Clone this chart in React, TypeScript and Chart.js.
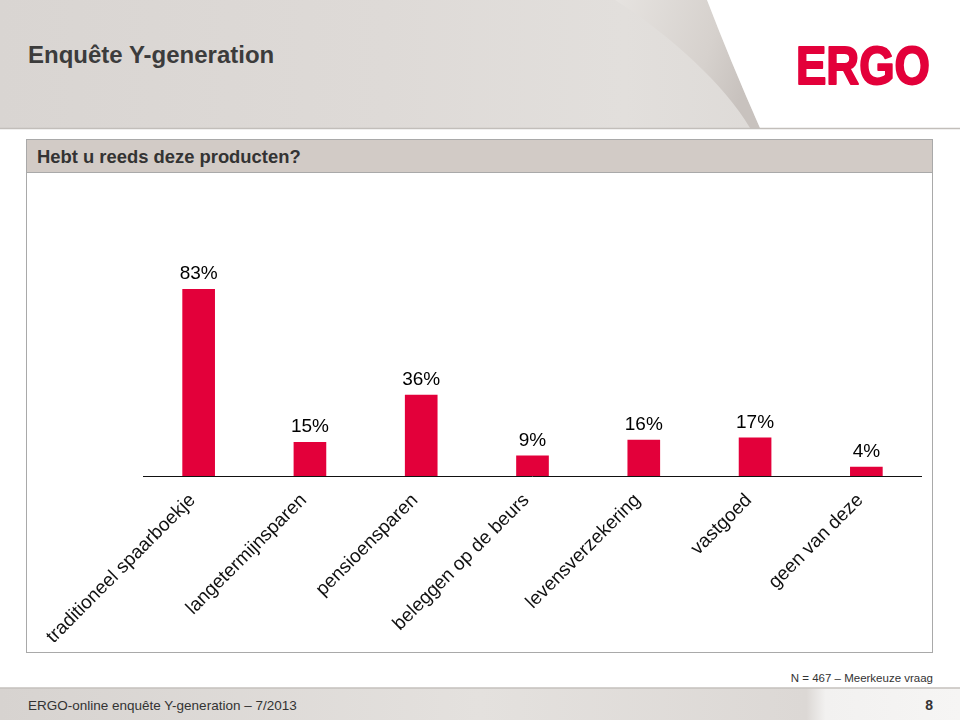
import React, { useEffect, useRef } from "react";
import { Chart, registerables } from "chart.js";

Chart.register(...registerables);

const categories = [
  "traditioneel spaarboekje",
  "langetermijnsparen",
  "pensioensparen",
  "beleggen op de beurs",
  "levensverzekering",
  "vastgoed",
  "geen van deze",
];
const values = [83, 15, 36, 9, 16, 17, 4];
const title = "Enquête Y-generation";
const question = "Hebt u reeds deze producten?";
const noteText = "N = 467 \u2013  Meerkeuze vraag";
const footerText = "ERGO-online enquête Y-generation \u2013 7/2013";
const pageNumber = "8";

const FONT = "'Liberation Sans', Arial, Helvetica, sans-serif";
const RED = "#e3003a";

const labelPlugin = {
  id: "customLabels",
  afterDatasetsDraw(chart: any) {
    const { ctx, chartArea, scales } = chart;
    const xs = scales.x;
    const ys = scales.y;
    const axisY = chartArea.bottom;
    ctx.save();
    // axis line
    ctx.strokeStyle = "#111";
    ctx.lineWidth = 1;
    ctx.beginPath();
    ctx.moveTo(chartArea.left, Math.round(axisY) + 0.5);
    ctx.lineTo(chartArea.right, Math.round(axisY) + 0.5);
    ctx.stroke();

    // value labels
    ctx.font = `19px ${FONT}`;
    ctx.fillStyle = "#000";
    ctx.textAlign = "center";
    ctx.textBaseline = "alphabetic";
    values.forEach((v, i) => {
      const x = xs.getPixelForValue(i);
      const y = ys.getPixelForValue(v);
      ctx.fillText(`${v}%`, x, y - 10);
    });

    // rotated category labels
    ctx.font = `19px ${FONT}`;
    ctx.fillStyle = "#111";
    ctx.textAlign = "right";
    categories.forEach((c, i) => {
      const x = xs.getPixelForValue(i);
      ctx.save();
      ctx.translate(x - 2.5, axisY + 25);
      ctx.rotate(-Math.PI / 4);
      ctx.fillText(c, 0, 0);
      ctx.restore();
    });
    ctx.restore();
  },
};

function BarChart() {
  const ref = useRef<HTMLCanvasElement>(null);
  useEffect(() => {
    if (!ref.current) return;
    const chart = new Chart(ref.current, {
      type: "bar",
      data: {
        labels: categories,
        datasets: [
          {
            data: values,
            backgroundColor: RED,
            borderWidth: 0,
            barThickness: 32,
          },
        ],
      },
      options: {
        responsive: false,
        animation: false,
        devicePixelRatio: 1,
        layout: { padding: { left: 116, right: 10, top: 78, bottom: 176 } },
        plugins: {
          legend: { display: false },
          tooltip: { enabled: false },
          title: { display: false },
        },
        scales: {
          x: { display: false, offset: true },
          y: { display: false, min: 0, max: 100 },
        },
      },
      plugins: [labelPlugin],
    });
    return () => chart.destroy();
  }, []);
  return (
    <canvas
      ref={ref}
      width={905}
      height={479}
      style={{ position: "absolute", left: 27, top: 173, width: 905, height: 479 }}
    />
  );
}

export default function App() {
  return (
    <div
      style={{
        position: "fixed",
        left: 0,
        top: 0,
        width: 960,
        height: 720,
        background: "#fff",
        overflow: "hidden",
        fontFamily: FONT,
      }}
    >
      <svg
        width={960}
        height={720}
        style={{ position: "absolute", left: 0, top: 0 }}
        fontFamily={FONT}
      >
        <defs>
          <linearGradient id="hdr" x1="0" y1="0" x2="1" y2="0">
            <stop offset="0" stopColor="#d9d5d2" />
            <stop offset="0.4" stopColor="#dedad7" />
            <stop offset="0.65" stopColor="#e2dfdc" />
            <stop offset="1" stopColor="#d8d4d1" />
          </linearGradient>
          <linearGradient id="curl" x1="0" y1="0" x2="1" y2="0.3">
            <stop offset="0" stopColor="#e6e3e0" />
            <stop offset="0.7" stopColor="#d6d1cd" />
            <stop offset="1" stopColor="#c8c2be" />
          </linearGradient>
          <linearGradient id="ftr" x1="0" y1="0" x2="1" y2="0">
            <stop offset="0" stopColor="#d7d3d0" />
            <stop offset="0.5" stopColor="#e4e1de" />
            <stop offset="0.84" stopColor="#dcd8d5" />
            <stop offset="0.86" stopColor="#f2f1f0" />
            <stop offset="1" stopColor="#f6f5f4" />
          </linearGradient>
        </defs>
        {/* header */}
        <rect x={0} y={0} width={960} height={128} fill="url(#hdr)" />
        <path d="M 615 0 C 670 35, 725 85, 750 128 L 760 128 Q 730 60, 707 0 Z" fill="url(#curl)" />
        <path d="M 707 0 Q 730 60, 760 128 L 960 128 L 960 0 Z" fill="#ffffff" />
        <line x1={0} y1={128.5} x2={960} y2={128.5} stroke="#c2beba" strokeWidth={1.5} />
        <text x={28} y={63} fontSize={24} fontWeight="bold" fill="#3c3c3c">
          {title}
        </text>
        <text
          x={796}
          y={84}
          fontSize={54}
          fontWeight="bold"
          fill={RED}
          stroke={RED}
          strokeWidth={2}
          strokeLinejoin="round"
          textLength={134}
          lengthAdjust="spacingAndGlyphs"
        >
          ERGO
        </text>

        {/* panel */}
        <rect x={26.5} y={139.5} width={906} height={513} fill="#fff" stroke="#a9a9a9" strokeWidth={1} />
        <rect x={26.5} y={139.5} width={906} height={33} fill="#d2cbc6" stroke="#a9a9a9" strokeWidth={1} />
        <text x={37} y={163} fontSize={18.4} fontWeight="bold" fill="#333">
          {question}
        </text>

        {/* notes & footer */}
        <text x={933} y={682} fontSize={11.5} fill="#333" textAnchor="end">
          {noteText}
        </text>
        <rect x={0} y={688} width={960} height={32} fill="url(#ftr)" />
        <line x1={0} y1={688} x2={960} y2={688} stroke="#c4c0bc" strokeWidth={1.5} />
        <text x={28} y={710} fontSize={13.5} fill="#333">
          {footerText}
        </text>
        <text x={933} y={710} fontSize={14} fontWeight="bold" fill="#333" textAnchor="end">
          {pageNumber}
        </text>
      </svg>
      <BarChart />
    </div>
  );
}
